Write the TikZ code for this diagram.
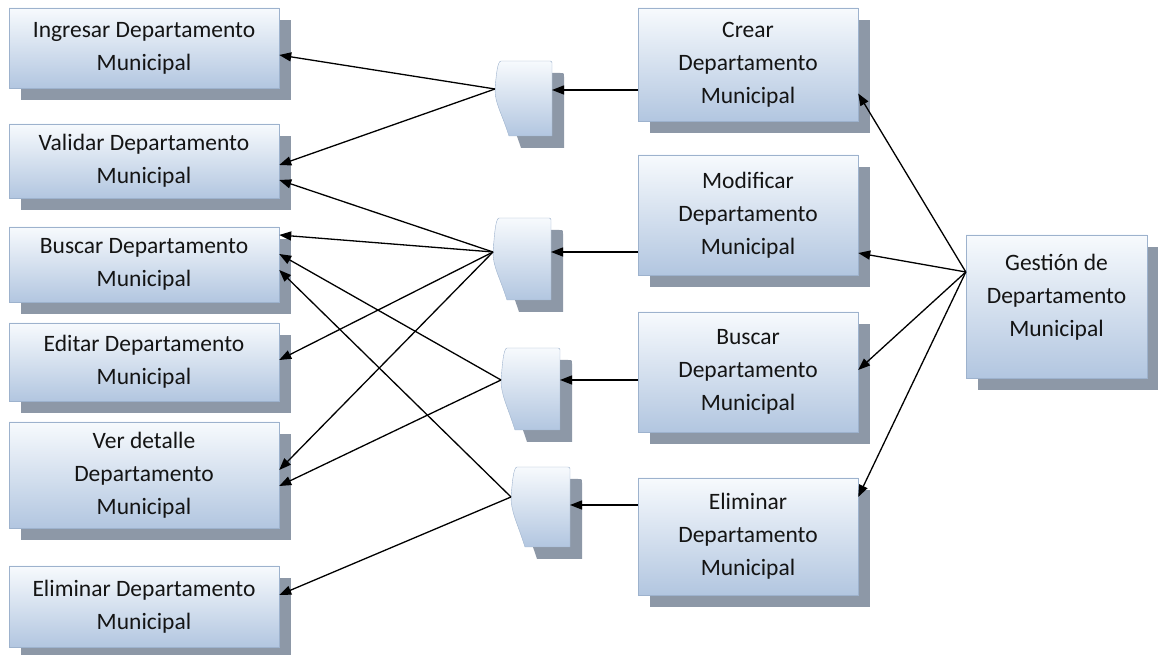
\documentclass[tikz,border=0pt]{standalone}
\usepackage{fontspec}
\setmainfont{Carlito}
\usepackage{tikz}
\usetikzlibrary{arrows.meta,shadows}
\definecolor{dmtop}{HTML}{F7FAFD}
\definecolor{dmbot}{HTML}{B2C6E0}
\definecolor{dmedge}{HTML}{9DB2CD}
\definecolor{dmshade}{HTML}{8D98A7}
\definecolor{dmink}{HTML}{141414}
\tikzset{
  sombra/.style={drop shadow={shadow xshift=12pt,shadow yshift=-12pt,fill=dmshade,opacity=1}},
  caja/.style={draw=dmedge,thin,top color=dmtop,bottom color=dmbot,sombra,
               align=center,inner sep=2pt,text=dmink,
               font=\fontsize{23.5}{33}\selectfont},
  izq/.style={caja,minimum width=270pt},
  der/.style={caja,minimum width=220pt},
  pieza/.style={draw=dmedge,thin,top color=dmtop,bottom color=dmbot,sombra},
  flecha/.style={-{Triangle[length=12pt,width=9pt]},line width=1.3pt,draw=black},
}

\begin{document}
\begin{tikzpicture}[x=1pt,y=1pt]
  \useasboundingbox (0,0) rectangle (1158,655);
  % connector piece: x0, y0 (top-left, counted from the top), width, height, tip depth
  \def\connpath#1#2#3#4#5{({#1+4},{655-#2}) -- ({#1+#3-4},{655-#2})
      .. controls ({#1+#3},{655-#2}) .. ({#1+#3},{651-#2}) -- ({#1+#3},{655-#2-#4})
      -- ({#1+12},{655-#2-#4})
      .. controls ({#1+4},{680-#2-#4}) and ({#1-2},{640-#2-#5}) .. ({#1-2},{655-#2-#5})
      .. controls ({#1-1},{665-#2-#5}) and ({#1},{655-#2}) .. ({#1+4},{655-#2}) -- cycle}
  % name, x0, y0, w, h, tip depth, y of the incoming arrow
  \def\conn#1#2#3#4#5#6#7{%
    \draw[pieza] \connpath{#2}{#3}{#4}{#5}{#6};
    \coordinate (#1) at ({#2-2},{655-#3-#6});
    \coordinate (#1e) at ({#2+#4},{655-#7});}

  % ---- operations (left) ----
  \node[izq,minimum height=80pt]  (ingresar)  at (144,607)   {Ingresar Departamento\\Municipal};
  \node[izq,minimum height=74pt]  (validar)   at (144,494)   {Validar Departamento\\Municipal};
  \node[izq,minimum height=75pt]  (buscarI)   at (144,390.5) {Buscar Departamento\\Municipal};
  \node[izq,minimum height=78pt]  (editar)    at (144,293)   {Editar Departamento\\Municipal};
  \node[izq,minimum height=106pt] (verdet)    at (144,180)   {Ver detalle\\Departamento\\Municipal};
  \node[izq,minimum height=81pt]  (eliminarI) at (144,48.5)  {Eliminar Departamento\\Municipal};

  % ---- use cases (right) ----
  \node[der,minimum height=113pt] (crear)     at (748,590.5) {Crear\\Departamento\\Municipal};
  \node[der,minimum height=120pt] (modificar) at (748,440)   {Modificar\\Departamento\\Municipal};
  \node[der,minimum height=120pt] (buscarD)   at (748,283)   {Buscar\\Departamento\\Municipal};
  \node[der,minimum height=117pt] (eliminarD) at (748,118.5) {Eliminar\\Departamento\\Municipal};
  \node[caja,minimum width=181pt,minimum height=143pt] (gestion) at (1056.5,348.5)
    {Gestión de\\Departamento\\Municipal\\[-10pt]\mbox{}};

  % ---- connector pieces ----
  \conn{c1}{497}{61}{55}{75}{28}{90}
  \conn{c2}{495}{218}{56}{82}{34}{252}
  \conn{c3}{503}{348}{57}{82}{32}{380}
  \conn{c4}{513}{467}{57}{80}{30}{505}

  % ---- gestion -> use cases ----
  \draw[flecha] ([yshift=34.5pt]gestion.west) -- ([yshift=-29pt]crear.east);
  \draw[flecha] ([yshift=34.5pt]gestion.west) -- ([yshift=-38pt]modificar.east);
  \draw[flecha] ([yshift=34.5pt]gestion.west) -- ([yshift=2pt]buscarD.east);
  \draw[flecha] ([yshift=34.5pt]gestion.west) -- ([yshift=39.5pt]eliminarD.east);

  % ---- use cases -> pieces ----
  \draw[flecha] (crear.west |- c1e) -- (c1e);
  \draw[flecha] (modificar.west |- c2e) -- (c2e);
  \draw[flecha] (buscarD.west |- c3e) -- (c3e);
  \draw[flecha] (eliminarD.west |- c4e) -- (c4e);

  % ---- pieces -> operations ----
  \draw[flecha] (c1) -- ([yshift=-7pt]ingresar.east);
  \draw[flecha] (c1) -- ([yshift=-4pt]validar.east);
  \draw[flecha] (c2) -- ([yshift=-19pt]validar.east);
  \draw[flecha] (c2) -- ([yshift=29.5pt]buscarI.east);
  \draw[flecha] (c2) -- ([yshift=2pt]editar.east);
  \draw[flecha] (c2) -- ([yshift=5pt]verdet.east);
  \draw[flecha] (c3) -- ([yshift=10.5pt]buscarI.east);
  \draw[flecha] (c3) -- ([yshift=-11pt]verdet.east);
  \draw[flecha] (c4) -- ([yshift=-5.5pt]buscarI.east);
  \draw[flecha] (c4) -- ([yshift=11.5pt]eliminarI.east);
\end{tikzpicture}
\end{document}
